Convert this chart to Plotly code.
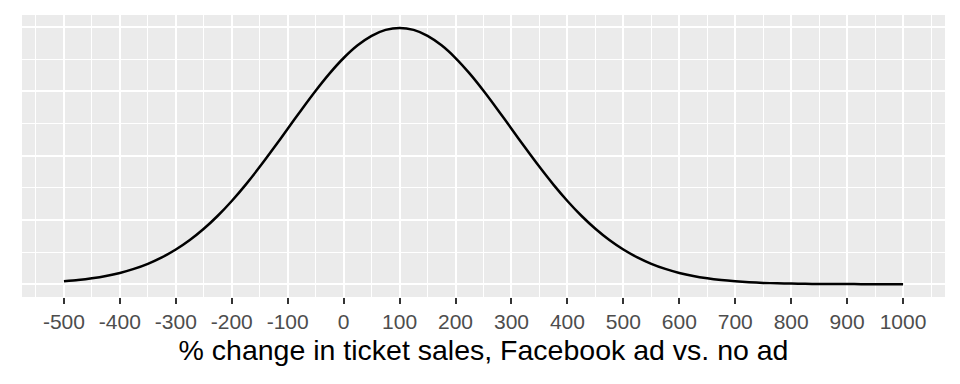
import plotly.graph_objects as go

# x: % change in ticket sales; y: density (x 1e-3)
x_vals = [-500, -475, -450, -425, -400, -375, -350, -325, -300, -275, -250, -225,
          -200, -175, -150, -125, -100, -75, -50, -25, 0, 25, 50, 75, 100, 125,
          150, 175, 200, 225, 250, 275, 300, 325, 350, 375, 400, 425, 450, 475,
          500, 525, 550, 575, 600, 625, 650, 675, 700, 725, 750, 775, 800, 825,
          850, 875, 900, 925, 950, 975, 1000]
density = [0.0222, 0.0320, 0.0455, 0.0636, 0.0876, 0.1188, 0.1587, 0.2086, 0.2700,
           0.3439, 0.4314, 0.5327, 0.6476, 0.7751, 0.9132, 1.0594, 1.2098, 1.3603,
           1.5057, 1.6408, 1.7603, 1.8593, 1.9333, 1.9792, 1.9947, 1.9792, 1.9333,
           1.8593, 1.7603, 1.6408, 1.5057, 1.3603, 1.2098, 1.0594, 0.9132, 0.7751,
           0.6476, 0.5327, 0.4314, 0.3439, 0.2700, 0.2086, 0.1587, 0.1188, 0.0876,
           0.0636, 0.0455, 0.0320, 0.0222, 0.0151, 0.0101, 0.0067, 0.0044, 0.0028,
           0.0018, 0.0011, 0.0007, 0.0004, 0.0002, 0.0001, 0.0001]
x_ticks = [-500, -400, -300, -200, -100, 0, 100, 200, 300, 400, 500, 600, 700, 800, 900, 1000]
x_title = "% change in ticket sales, Facebook ad vs. no ad"

fig = go.Figure()
fig.add_trace(go.Scatter(x=x_vals, y=density, mode="lines",
                         line=dict(color="black", width=2.5, shape="spline", smoothing=0.6),
                         hoverinfo="skip", showlegend=False))

font = "Liberation Sans, Arial, sans-serif"
fig.update_layout(
    width=960, height=384,
    margin=dict(l=22, r=15, t=15, b=87),
    paper_bgcolor="white", plot_bgcolor="#EBEBEB",
    font=dict(family=font),
    xaxis=dict(
        range=[-575, 1075], tickmode="array", tickvals=x_ticks,
        ticktext=[str(v) for v in x_ticks],
        showgrid=True, gridcolor="white", gridwidth=2,
        minor=dict(tickmode="linear", tick0=-550, dtick=100, showgrid=True,
                   gridcolor="white", gridwidth=1, ticks=""),
        ticks="outside", ticklen=6, tickwidth=2, tickcolor="#333333",
        tickfont=dict(size=21, color="#4D4D4D", family=font),
        zeroline=False, showline=False,
        title=dict(text=x_title, font=dict(size=28.5, color="black", family=font), standoff=7),
    ),
    yaxis=dict(
        range=[-0.0997, 2.095], tickmode="linear", tick0=0, dtick=0.5,
        showticklabels=False, ticks="",
        showgrid=True, gridcolor="white", gridwidth=2,
        minor=dict(tickmode="linear", tick0=0.25, dtick=0.5, showgrid=True,
                   gridcolor="white", gridwidth=1, ticks=""),
        zeroline=False, showline=False,
    ),
)

fig.write_html("out.html", config={"displayModeBar": False},
               post_script="document.body.style.margin='0';document.body.style.padding='0';")
